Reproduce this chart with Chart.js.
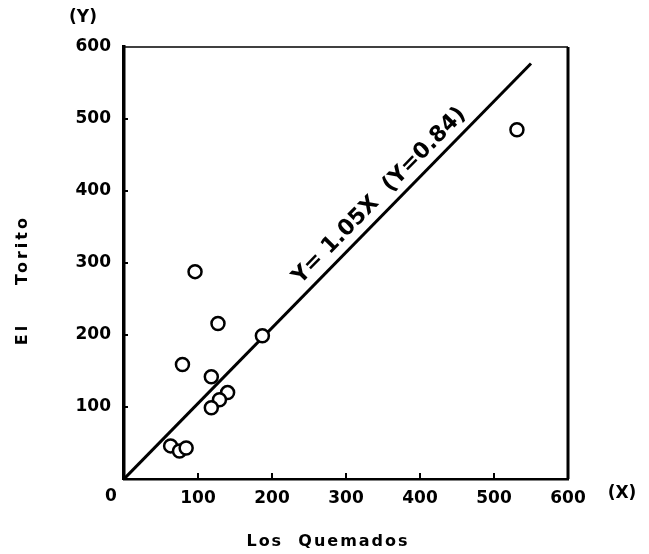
<!DOCTYPE html>
<html>
<head>
<meta charset="utf-8">
<script src="https://cdn.jsdelivr.net/npm/chart.js@4"></script>
<style>
  body { margin: 0; background: #fff; }
  canvas { display: block; }
</style>
</head>
<body>
<canvas id="myChart" width="649" height="554"></canvas>
<script>
// readings from the plot (Los Quemados = X, El Torito = Y)
const quemados = [96, 127, 187, 79, 118, 140, 129, 118, 63, 75, 84, 531];
const torito = [288, 216, 199, 159, 142, 120, 110, 99, 46, 39, 43, 485];

// regression line Y = 1.05X, drawn from the origin
const fitX = [0, 550];
const fitY = [0, 577];

const tickValues = [0, 100, 200, 300, 400, 500, 600];
const xTitle = 'Los  Quemados';
const yTitle = ['Torito', 'El'];
const fitLabel = 'Y= 1.05X  (Y=0.84)';

const FONT = 'DejaVu Sans';

//draws the frame, inward ticks and all loose text
const extras = {
  id: 'extras',
  afterDraw(chart) {
    const ctx = chart.ctx;
    const a = chart.chartArea;
    const xs = chart.scales.x, ys = chart.scales.y;
    ctx.save();
    ctx.strokeStyle = '#000';
    // top + right edges of the box
    ctx.lineWidth = 1.5;
    ctx.beginPath();
    ctx.moveTo(a.left, a.top);
    ctx.lineTo(a.right, a.top);
    ctx.stroke();
    ctx.lineWidth = 3;
    ctx.beginPath();
    ctx.moveTo(a.right, a.top);
    ctx.lineTo(a.right, a.bottom);
    ctx.stroke();

    // inward ticks
    ctx.lineWidth = 2;
    for (let i = 1; i < tickValues.length - 1; i++) {
      const px = xs.getPixelForValue(tickValues[i]);
      ctx.beginPath();
      ctx.moveTo(px, a.bottom);
      ctx.lineTo(px, a.bottom - 6);
      ctx.stroke();
      const py = ys.getPixelForValue(tickValues[i]);
      ctx.beginPath();
      ctx.moveTo(a.left, py);
      ctx.lineTo(a.left + 4, py);
      ctx.stroke();
    }

    ctx.fillStyle = '#000';
    ctx.textAlign = 'center';
    ctx.textBaseline = 'middle';
    ctx.font = 'bold 17px "' + FONT + '"';
    ctx.fillText('0', a.left - 13, a.bottom + 18);
    ctx.fillText('(X)', a.right + 54, a.bottom + 15);
    ctx.fillText('(Y)', a.left - 41, a.top - 29);

    ctx.font = 'bold 16px "' + FONT + '"';
    ctx.letterSpacing = '2px';
    ctx.fillText(xTitle, 328, 542);
    ctx.letterSpacing = '3px';
    ctx.save();
    ctx.translate(23, 0);
    ctx.rotate(-Math.PI / 2);
    ctx.fillText(yTitle[0], -250, 0);
    ctx.fillText(yTitle[1], -334, 0);
    ctx.restore();
    ctx.letterSpacing = '0px';

    // label along the fit line
    const x0 = xs.getPixelForValue(fitX[0]), y0 = ys.getPixelForValue(fitY[0]);
    const x1 = xs.getPixelForValue(fitX[1]), y1 = ys.getPixelForValue(fitY[1]);
    const ang = Math.atan2(y1 - y0, x1 - x0);
    const t = 0.655;
    const cx = x0 + (x1 - x0) * t, cy = y0 + (y1 - y0) * t;
    ctx.save();
    ctx.translate(cx, cy);
    ctx.rotate(ang);
    ctx.font = 'bold 22px "' + FONT + '"';
    ctx.textBaseline = 'alphabetic';
    ctx.fillText(fitLabel, 0, -10);
    ctx.restore();
    ctx.restore();
  }
};

const ctx = document.getElementById('myChart');
const points = quemados.map((x, i) => ({ x: x, y: torito[i] }));
const fitLine = fitX.map((x, i) => ({ x: x, y: fitY[i] }));

const tickFont = { family: FONT, size: 17, weight: 'bold' };

new Chart(ctx, {
  type: 'scatter',
  data: {
    datasets: [{
      label: 'sites',
      data: points,
      pointStyle: 'circle',
      pointRadius: 6.5,
      pointBorderWidth: 2.5,
      pointBorderColor: '#000',
      pointBackgroundColor: '#fff'
    }, {
      label: 'fit',
      data: fitLine,
      showLine: true,
      borderColor: '#000',
      borderWidth: 3,
      pointRadius: 0
    }]
  },
  options: {
    responsive: false,
    animation: false,
    devicePixelRatio: 1,
    layout: { padding: { left: 0, top: 47, right: 81, bottom: 0 } },
    plugins: { legend: { display: false }, tooltip: { enabled: false } },
    scales: {
      x: {
        type: 'linear',
        min: 0,
        max: 600,
        afterFit: s => { s.height = 75; },
        ticks: {
          stepSize: 100,
          padding: 9,
          color: '#000',
          font: tickFont,
          maxRotation: 0,
          callback: v => v === 0 ? '' : v
        },
        grid: { display: false, drawTicks: false },
        border: { display: true, color: '#000', width: 2.5 }
      },
      y: {
        type: 'linear',
        min: 0,
        max: 600,
        afterFit: s => { s.width = 124; },
        ticks: {
          stepSize: 100,
          padding: 13,
          color: '#000',
          font: tickFont,
          callback: v => v === 0 ? '' : v
        },
        grid: { display: false, drawTicks: false },
        border: { display: true, color: '#000', width: 3.5 }
      }
    }
  },
  plugins: [extras]
});
</script>
</body>
</html>
